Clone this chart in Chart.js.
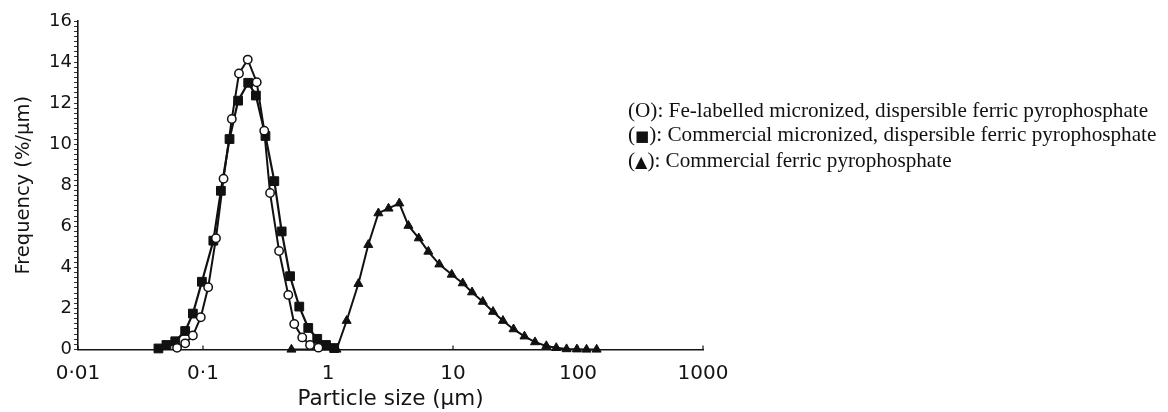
<!DOCTYPE html>
<html><head><meta charset="utf-8">
<script src="https://cdn.jsdelivr.net/npm/chart.js@4.4.1/dist/chart.umd.min.js"></script>
<style>
html,body{margin:0;padding:0;background:#fff;}
#wrap{position:relative;width:1168px;height:412px;overflow:hidden;}
#legend{position:absolute;left:628px;top:98px;font-family:'Liberation Serif','Times New Roman',serif;font-size:21.2px;line-height:24px;color:#111;white-space:nowrap;}
#legend .sq{font-family:'DejaVu Sans';font-size:15px;}
#legend .tr{font-family:'DejaVu Sans';font-size:16px;}
</style></head><body>
<div id="wrap"><canvas id="c" width="1168" height="412"></canvas>
<div id="legend">
<div>(O): Fe-labelled micronized, dispersible ferric pyrophosphate</div>
<div>(<span class="sq">■</span>): Commercial micronized, dispersible ferric pyrophosphate</div>
<div>(<span class="tr">▲</span>): Commercial ferric pyrophosphate</div>
</div></div>
<script>
// Fe-labelled micronized, dispersible ferric pyrophosphate (open circles)
const circleSize = [0.062, 0.072, 0.083, 0.096, 0.110, 0.127, 0.146, 0.170, 0.194, 0.228, 0.269, 0.309, 0.344, 0.406, 0.481, 0.537, 0.622, 0.718, 0.838];
const circleFreq = [0.08, 0.30, 0.68, 1.57, 3.03, 5.42, 8.32, 11.23, 13.44, 14.12, 13.02, 10.66, 7.62, 4.80, 2.66, 1.24, 0.59, 0.22, 0.09];
// Commercial micronized, dispersible ferric pyrophosphate (filled squares)
const squareSize = [0.044, 0.051, 0.060, 0.072, 0.083, 0.098, 0.121, 0.139, 0.163, 0.191, 0.230, 0.265, 0.316, 0.372, 0.426, 0.497, 0.589, 0.695, 0.820, 0.964, 1.12];
const squareFreq = [0.05, 0.22, 0.40, 0.90, 1.75, 3.30, 5.30, 7.73, 10.25, 12.12, 12.99, 12.37, 10.40, 8.20, 5.75, 3.57, 2.09, 1.05, 0.52, 0.22, 0.07];
// Commercial ferric pyrophosphate (filled triangles)
const triangleSize = [0.51, 1.17, 1.41, 1.75, 2.10, 2.53, 3.05, 3.72, 4.40, 5.32, 6.35, 7.77, 9.77, 11.96, 14.2, 17.3, 20.9, 25.1, 30.5, 37.3, 45.3, 55.8, 67, 81, 98, 117, 141];
const triangleFreq = [0, 0, 1.40, 3.20, 5.10, 6.64, 6.87, 7.12, 6.03, 5.42, 4.77, 4.15, 3.65, 3.23, 2.79, 2.33, 1.84, 1.40, 0.99, 0.64, 0.36, 0.17, 0.08, 0.02, 0.01, 0, 0];

const xTickValues = [0.01, 0.1, 1, 10, 100, 1000];
const xTickLabels = ['0·01', '0·1', '1', '10', '100', '1000'];
const yTickLabels = ['0', '2', '4', '6', '8', '10', '12', '14', '16'];

const pts = (xs, ys) => xs.map((x, i) => ({x: x, y: ys[i]}));
const ink = '#141414';

const innerTicks = {
  id: 'innerTicks',
  afterDraw(chart) {
    const ctx = chart.ctx, xs = chart.scales.x, y0 = chart.chartArea.bottom;
    ctx.save();
    ctx.strokeStyle = ink; ctx.lineWidth = 1.2;
    xTickValues.forEach(v => {
      const px = xs.getPixelForValue(v);
      ctx.beginPath(); ctx.moveTo(px, y0); ctx.lineTo(px, y0 - 4); ctx.stroke();
    });
    ctx.restore();
  }
};

new Chart(document.getElementById('c'), {
  type: 'scatter',
  data: {
    datasets: [
      {label: 'Fe-labelled micronized, dispersible ferric pyrophosphate', data: pts(circleSize, circleFreq), showLine: true, borderColor: '#111', borderWidth: 2, pointStyle: 'circle', pointRadius: 4.2, pointBorderWidth: 1.5, pointBackgroundColor: '#fff', pointBorderColor: '#111', clip: false, tension: 0},
      {label: 'Commercial micronized, dispersible ferric pyrophosphate', data: pts(squareSize, squareFreq), showLine: true, borderColor: '#111', borderWidth: 2.2, pointStyle: 'rect', pointRadius: 6.2, pointBorderWidth: 1, pointBackgroundColor: '#111', pointBorderColor: '#111', clip: false, tension: 0},
      {label: 'Commercial ferric pyrophosphate', data: pts(triangleSize, triangleFreq), showLine: true, borderColor: '#111', borderWidth: 2, pointStyle: 'triangle', pointRadius: 5.2, pointBorderWidth: 1, pointBackgroundColor: '#111', pointBorderColor: '#111', clip: false, tension: 0}
    ]
  },
  options: {
    responsive: false,
    animation: false,
    layout: {padding: {left: 0, top: 21, right: 465, bottom: 0}},
    plugins: {legend: {display: false}, tooltip: {enabled: false}},
    scales: {
      x: {
        type: 'logarithmic', min: 0.01, max: 1000,
        afterFit(s) { s.height = 62.5; },
        afterBuildTicks(s) { s.ticks = xTickValues.map(v => ({value: v, major: true})); },
        grid: {drawOnChartArea: false, drawTicks: false},
        border: {display: true, color: ink, width: 1.6},
        ticks: {autoSkip: false, maxRotation: 0, padding: 12, color: ink, font: {family: 'DejaVu Sans', size: 20},
          callback: (v, i) => xTickLabels[i]},
        title: {display: true, text: 'Particle size (μm)', color: ink, font: {family: 'DejaVu Sans', size: 21.5}, padding: {top: 0, bottom: 0}}
      },
      y: {
        min: 0, max: 16,
        afterFit(s) { s.width = 78; },
        grid: {drawOnChartArea: false, drawTicks: true, tickLength: 4, tickColor: '#333', tickWidth: 1},
        border: {display: true, color: ink, width: 1.6},
        ticks: {stepSize: 0.25, autoSkip: false, maxTicksLimit: 100, padding: 2, color: ink, font: {family: 'DejaVu Sans', size: 18},
          callback: (v) => (v % 2 === 0 ? yTickLabels[v / 2] : '')},
        title: {display: true, text: 'Frequency (%/μm)', color: ink, font: {family: 'DejaVu Sans', size: 19.5}, padding: {top: 12, bottom: 0}}
      }
    }
  },
  plugins: [innerTicks]
});
</script>
</body></html>
